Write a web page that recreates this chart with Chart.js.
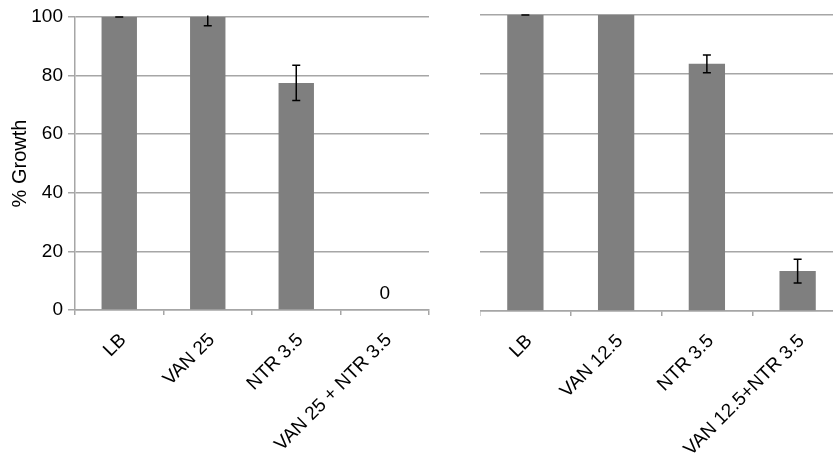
<!DOCTYPE html>
<html><head><meta charset="utf-8">
<script src="https://cdn.jsdelivr.net/npm/chart.js@4/dist/chart.umd.min.js"></script>
<style>
html,body{margin:0;padding:0;width:833px;height:456px;overflow:hidden;background:#fff;}
#c1{position:absolute;left:0;top:0;}
#c2{position:absolute;left:480px;top:0;}
</style></head><body>
<canvas id="c1" width="440" height="456"></canvas>
<canvas id="c2" width="380" height="456"></canvas>
<script>
const leftCategories = ['LB', 'VAN 25', 'NTR 3.5', 'VAN 25 + NTR 3.5'];
const leftValues = [100, 100, 77.5, 0];
const leftErrors = [0, 3, 6, null];
const leftValueLabels = [null, null, null, '0'];
const rightCategories = ['LB', 'VAN 12.5', 'NTR 3.5', 'VAN 12.5+NTR 3.5'];
const rightValues = [100, 100, 83.5, 13.5];
const rightErrors = [0, null, 3, 4];
const rightValueLabels = [null, null, null, null];
const yTickValues = [0, 20, 40, 60, 80, 100];

const FONT = "'Liberation Sans', Arial, sans-serif";
const GRID = '#a6a6a6';
const BAR = '#7f7f7f';

const errorBarPlugin = {
  id: 'errbars',
  afterDatasetsDraw(chart, args, opts) {
    const {ctx, chartArea, scales: {x, y}} = chart;
    const vals = chart.data.datasets[0].data;
    ctx.save();
    ctx.beginPath();
    ctx.rect(chartArea.left, chartArea.top - 1.5, chartArea.right - chartArea.left, chartArea.bottom - chartArea.top + 1.5);
    ctx.clip();
    ctx.strokeStyle = '#000';
    ctx.lineWidth = 1.5;
    (opts.errors || []).forEach((e, i) => {
      if (e == null) return;
      const cx = x.getPixelForValue(i);
      const yt = y.getPixelForValue(vals[i] + e);
      const yb = y.getPixelForValue(vals[i] - e);
      ctx.beginPath();
      ctx.moveTo(cx, yt); ctx.lineTo(cx, yb);
      ctx.moveTo(cx - 4, yt); ctx.lineTo(cx + 4, yt);
      ctx.moveTo(cx - 4, yb); ctx.lineTo(cx + 4, yb);
      ctx.stroke();
    });
    ctx.restore();
    ctx.save();
    ctx.fillStyle = '#000';
    ctx.font = '19px ' + FONT;
    ctx.textAlign = 'center';
    ctx.textBaseline = 'alphabetic';
    (opts.labels || []).forEach((t, i) => {
      if (t == null) return;
      const cx = x.getPixelForValue(i);
      const yy = y.getPixelForValue(vals[i]);
      ctx.fillText(t, cx, yy - 11);
    });
    ctx.restore();
  }
};

function makeChart(id, cats, vals, errs, labels, cfg) {
  return new Chart(document.getElementById(id), {
    type: 'bar',
    data: {
      labels: cats,
      datasets: [{data: vals, backgroundColor: BAR, borderWidth: 0, barPercentage: 0.4, categoryPercentage: 1.0}]
    },
    plugins: [errorBarPlugin],
    options: {
      responsive: false,
      animation: false,
      devicePixelRatio: 1,
      layout: {padding: cfg.padding},
      plugins: {
        legend: {display: false},
        tooltip: {enabled: false},
        errbars: {errors: errs, labels: labels}
      },
      scales: {
        x: {
          offset: true,
          grid: {display: true, drawOnChartArea: false, drawTicks: true, tickLength: 5, color: GRID, lineWidth: 1.5, offset: true},
          border: {display: true, color: GRID, width: 1.5},
          ticks: {color: '#000', font: {family: FONT, size: 19}, minRotation: 45, maxRotation: 45, padding: 14, labelOffset: 4, autoSkip: false},
          afterFit: s => { s.height = cfg.xHeight; }
        },
        y: {
          min: 0, max: 100,
          afterBuildTicks: s => { s.ticks = yTickValues.map(v => ({value: v})); },
          grid: {color: GRID, lineWidth: 1.5, drawTicks: cfg.showY, tickLength: 7},
          border: {display: cfg.showY, color: GRID, width: 1.5},
          ticks: {display: cfg.showY, color: '#000', font: {family: FONT, size: 19}, padding: 5},
          title: {display: cfg.showY, text: '% Growth', color: '#000', font: {family: FONT, size: 20}, padding: {top: 8, bottom: 0}},
          afterFit: s => { s.width = cfg.yWidth; }
        }
      }
    }
  });
}

makeChart('c1', leftCategories, leftValues, leftErrors, leftValueLabels,
  {padding: {top: 17, right: 11, left: 0, bottom: 0}, xHeight: 146, yWidth: 75, showY: true});
makeChart('c2', rightCategories, rightValues, rightErrors, rightValueLabels,
  {padding: {top: 15, right: 17, left: 0, bottom: 0}, xHeight: 145, yWidth: 0, showY: false});
</script>
</body></html>
